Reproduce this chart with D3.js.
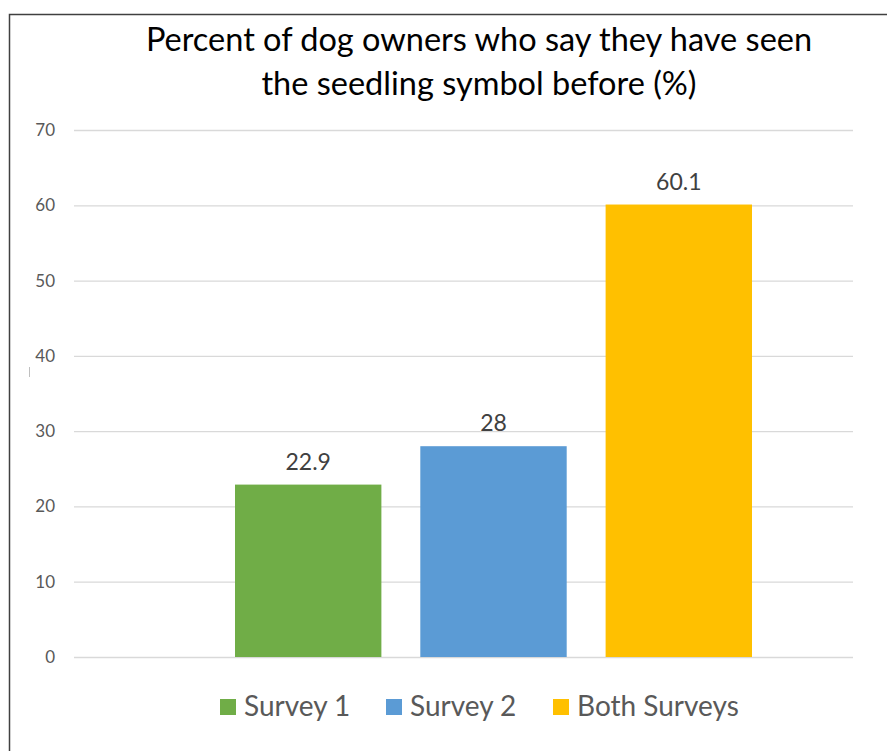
<!DOCTYPE html>
<html>
<head>
<meta charset="utf-8">
<script src="https://cdn.jsdelivr.net/npm/d3@7"></script>
<style>
  body { margin: 0; background: #fff; }
  text { font-family: Lato, "Open Sans", sans-serif; }
</style>
</head>
<body>
<svg id="chart" width="887" height="751"></svg>
<script>
///////////////////////////////////////////
// Data
///////////////////////////////////////////
var seriesNames = ["Survey 1", "Survey 2", "Both Surveys"];
var seriesValues = [22.9, 28, 60.1];
var seriesColors = ["#70AD47", "#5B9BD5", "#FFC000"];
var yTicks = [0, 10, 20, 30, 40, 50, 60, 70];
var titleLines = ["Percent of dog owners who say they have seen", "the seedling symbol before (%)"];

///////////////////////////////////////////
// Chart
///////////////////////////////////////////
var svg = d3.select("#chart");

// frame (top + left edge of the screenshot)
svg.append("path")
    .attr("d", "M9.5,751 V14.5 H887")
    .attr("fill", "none")
    .attr("stroke", "#404040")
    .attr("stroke-width", 1.5);

// clipped axis title remnant
svg.append("line")
    .attr("x1", 29.5).attr("x2", 29.5)
    .attr("y1", 367).attr("y2", 377)
    .attr("stroke", "#bfbfbf");

var y = d3.scaleLinear().domain([0, 70]).range([657, 130]);

var x = d3.scaleBand()
    .domain(seriesNames)
    .range([235, 752])
    .paddingInner(0.21)
    .paddingOuter(0);

// gridlines + tick labels via axis
var yAxis = svg.append("g")
    .attr("transform", "translate(74,0)")
    .call(d3.axisLeft(y).tickValues(yTicks).tickSize(-779).tickPadding(19));

yAxis.select(".domain").remove();
yAxis.selectAll(".tick line")
    .attr("stroke", "#d9d9d9")
    .attr("stroke-width", 1.3);
yAxis.selectAll(".tick text")
    .attr("fill", "#595959")
    .style("font-size", "17px")
    .style("font-family", "Lato, sans-serif");

// bars
svg.selectAll("rect.bar")
    .data(seriesValues)
    .enter().append("rect")
    .attr("class", "bar")
    .attr("x", function(d, i) { return x(seriesNames[i]); })
    .attr("width", x.bandwidth())
    .attr("y", function(d) { return y(d); })
    .attr("height", function(d) { return y(0) - y(d); })
    .attr("fill", function(d, i) { return seriesColors[i]; });

// value labels
svg.selectAll("text.val")
    .data(seriesValues)
    .enter().append("text")
    .attr("class", "val")
    .attr("x", function(d, i) { return x(seriesNames[i]) + x.bandwidth() / 2; })
    .attr("y", function(d) { return y(d) - 15; })
    .attr("text-anchor", "middle")
    .attr("fill", "#404040")
    .style("font-size", "23px")
    .text(function(d) { return d; });

// title
svg.selectAll("text.title")
    .data(titleLines)
    .enter().append("text")
    .attr("class", "title")
    .attr("x", 479)
    .attr("y", function(d, i) { return 51 + i * 44; })
    .attr("text-anchor", "middle")
    .attr("fill", "#000")
    .style("font-size", "32.5px")
    .text(function(d) { return d; });

// legend
var legendX = [220, 386, 553];
var legend = svg.selectAll("g.legend")
    .data(seriesNames)
    .enter().append("g")
    .attr("class", "legend")
    .attr("transform", function(d, i) { return "translate(" + legendX[i] + ",699)"; });

legend.append("rect")
    .attr("width", 16).attr("height", 16)
    .attr("fill", function(d, i) { return seriesColors[i]; });

legend.append("text")
    .attr("x", 24)
    .attr("y", 17)
    .attr("fill", "#595959")
    .style("font-size", "28px")
    .text(function(d) { return d; });
</script>
</body>
</html>
